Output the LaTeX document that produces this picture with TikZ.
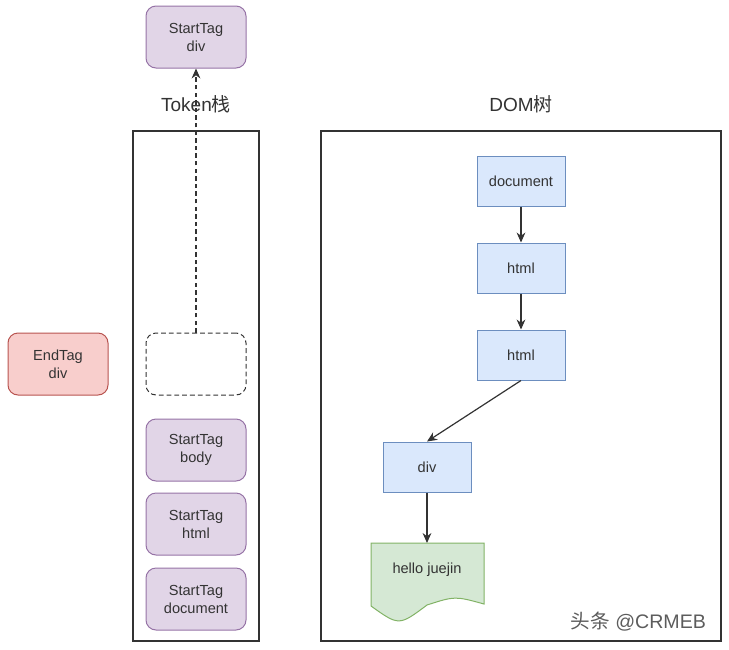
\documentclass[tikz,border=0pt]{standalone}
\usepackage{fontspec}
\setmainfont{Liberation Sans}
\newfontfamily\cjk{Noto Sans CJK SC}
\usepackage{xcolor}
\usepackage{tikz}
\usetikzlibrary{positioning,arrows.meta}

\definecolor{tagfill}{HTML}{E1D5E7}
\definecolor{tagline}{HTML}{9673A6}
\definecolor{endfill}{HTML}{F8CECC}
\definecolor{endline}{HTML}{B85450}
\definecolor{domfill}{HTML}{DAE8FC}
\definecolor{domline}{HTML}{6C8EBF}
\definecolor{txtfill}{HTML}{D5E8D4}
\definecolor{txtline}{HTML}{82B366}
\definecolor{ink}{HTML}{333333}

\tikzset{
	boxfont/.style={font=\fontsize{7.3}{9}\selectfont, text=ink, align=center},
	tag/.style={boxfont, draw=tagline, fill=tagfill, rounded corners=5pt,
		minimum width=50pt, minimum height=31pt, line width=0.5pt},
	endtag/.style={tag, draw=endline, fill=endfill},
	slot/.style={tag, draw=ink, fill=none, dash pattern=on 2.4pt off 1.5pt},
	dom/.style={boxfont, draw=domline, fill=domfill,
		minimum width=44pt, minimum height=25pt, line width=0.5pt},
	frame/.style={draw=ink, line width=0.6pt},
	title/.style={font=\fontsize{9.5}{11}\selectfont, text=ink},
}

\begin{document}
\begin{tikzpicture}[x=0.5pt, y=-0.5pt, >={Stealth[length=5pt, width=4.4pt]}]
		\useasboundingbox (0,0) rectangle (729,649);

		% token stack
		\draw[frame] (133,131) rectangle (259,641);
		\node[title] (tokt) at (196,104) {Token{\cjk 栈}};

		\node[tag] (sdiv) at (196,37) {StartTag\\div};
		\node[slot] (free) at (196,364) {};
		\node[tag] (sbody) at (196,450) {StartTag\\body};
		\node[tag] (shtml) at (196,524) {StartTag\\html};
		\node[tag] (sdoc) at (196,599) {StartTag\\document};

		\node[endtag] (ediv) at (58,364) {EndTag\\div};

		\draw[->, dash pattern=on 2.2pt off 1.6pt, ink, line width=0.6pt] (free) -- (sdiv);

		% dom tree
		\draw[frame] (321,131) rectangle (721,641);
		\node[title] (domt) at (521,104) {DOM{\cjk 树}};

		\node[dom] (doc) at (521,181) {document};
		\node[dom] (h1) at (521,268) {html};
		\node[dom] (h2) at (521,355) {html};
		\node[dom] (div) at (427,467) {div};

		\draw[txtline, fill=txtfill, line width=0.5pt]
			(371,543) -- (484,543) -- (484,604)
			.. controls (455,596) .. (427,605)
			.. controls (399,626) .. (371,606) -- cycle;
		\node[boxfont] (txt) at (427,570) {hello juejin};
		\coordinate (txtin) at (427,543);

		\draw[->, ink, line width=0.6pt] (doc) -- (h1);
		\draw[->, ink, line width=0.6pt] (h1) -- (h2);
		\draw[->, ink, line width=0.6pt] (h2.south) -- (div.north);
		\draw[->, ink, line width=0.6pt] (div) -- (txtin);

		\node[anchor=east, text=ink!80, font=\fontsize{9.8}{11}\selectfont] (mark) at (713,622) {{\cjk 头条} @CRMEB};
	\end{tikzpicture}
\end{document}
